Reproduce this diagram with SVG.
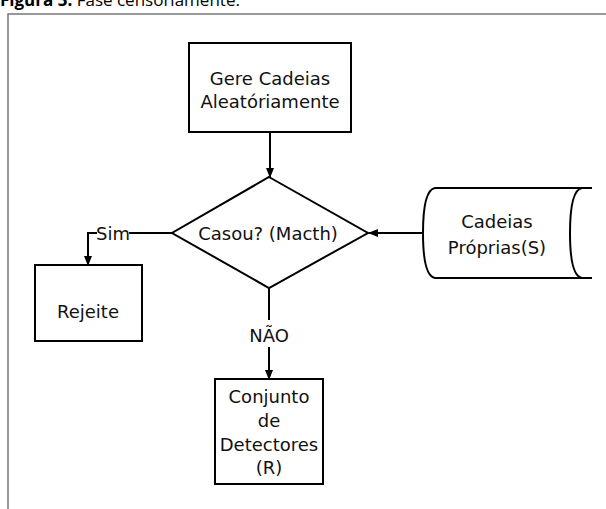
<svg xmlns="http://www.w3.org/2000/svg" width="606" height="509" viewBox="0 0 606 509">
<style>
.s{fill:#fff;stroke:#000;stroke-width:2}
.t{font-family:"DejaVu Sans",sans-serif;font-size:18px;fill:#111;text-anchor:middle}
.c{fill:none;stroke:#000;stroke-width:2}
</style>
<defs>
<marker id="a" markerWidth="10" markerHeight="10" refX="9" refY="5" orient="auto" markerUnits="userSpaceOnUse">
<path d="M0,1 L10,5 L0,9 Z" fill="#000"/>
</marker>
</defs>
<rect width="606" height="509" fill="#fff"/>
<text x="0" y="6" font-family="'Open Sans',sans-serif" font-size="17" fill="#000"><tspan font-weight="bold">Figura 3:</tspan> Fase censoriamente.</text>
<path d="M8,509 V14 H606" fill="none" stroke="#777" stroke-width="1.5"/>
<g id="connectors">
<path class="c" d="M270,132 V177" marker-end="url(#a)"/>
<path class="c" d="M423,233 H369" marker-end="url(#a)"/>
<path class="c" d="M172,233 H129 M97,233 H88 V265" marker-end="url(#a)"/>
<text class="t" x="113" y="240">Sim</text>
<path class="c" d="M269,288 V320 M269,347 V379" marker-end="url(#a)"/>
<text class="t" x="269" y="342">NÃO</text>
</g>
<g id="gere">
<rect class="s" x="189" y="43" width="162" height="89"/>
<text class="t" x="270" y="85">Gere Cadeias</text>
<text class="t" x="270" y="108">Aleatóriamente</text>
</g>
<g id="casou">
<path class="s" d="M269,177 L368,233 L269,288 L172,233 Z"/>
<text class="t" x="268" y="240">Casou? (Macth)</text>
</g>
<g id="cadeias">
<path class="s" d="M592,188 H435 Q423,190 423,233 Q423,276 435,278 H592"/>
<path class="c" d="M592,188 H582 Q570,190 570,233 Q570,276 582,278 H592"/>
<text class="t" x="497" y="228">Cadeias</text>
<text class="t" x="497" y="254">Próprias(S)</text>
</g>
<g id="rejeite">
<rect class="s" x="35" y="265" width="107" height="76"/>
<text class="t" x="88" y="318">Rejeite</text>
</g>
<g id="conjunto">
<rect class="s" x="215" y="379" width="108" height="105"/>
<text class="t" x="269" y="403">Conjunto</text>
<text class="t" x="269" y="427">de</text>
<text class="t" x="269" y="451">Detectores</text>
<text class="t" x="269" y="474">(R)</text>
</g>
</svg>
